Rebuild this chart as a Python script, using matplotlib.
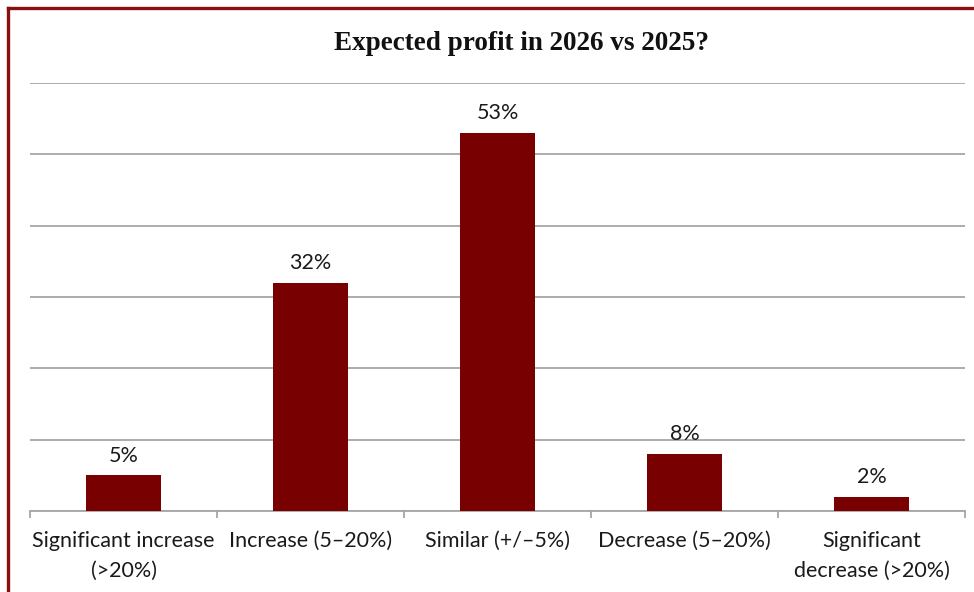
import matplotlib.pyplot as plt
from matplotlib.lines import Line2D

categories = ['Significant increase\n(>20%)', 'Increase (5\u201320%)', 'Similar (+/\u20135%)',
              'Decrease (5\u201320%)', 'Significant\ndecrease (>20%)']
values = [5, 32, 53, 8, 2]

bar_color = '#780000'
grid_color = '#a6a6a6'
text_color = '#1a1a1a'

fig = plt.figure(figsize=(9.74, 5.92), dpi=100)
ax = fig.add_axes([30 / 974, 1 - 511 / 592, 935 / 974, 428 / 592])

x = list(range(len(categories)))
bars = ax.bar(x, values, width=0.4, color=bar_color, zorder=3)

for b, v in zip(bars, values):
    ax.annotate(f'{v}%', (b.get_x() + b.get_width() / 2, v), xytext=(0, 7),
                textcoords='offset points', ha='center', va='bottom',
                fontsize=15.5, family='Lato', color=text_color)

ax.set_xlim(-0.5, len(categories) - 0.5)
ax.set_ylim(0, 60)
ax.set_yticks(range(0, 61, 10))
ax.yaxis.grid(True, color=grid_color, linewidth=1.3, zorder=0)
ax.tick_params(axis='y', length=0, labelleft=False)

# category labels centred under each bar, tick marks on the boundaries
ax.set_xticks([i - 0.5 for i in range(len(categories) + 1)])
ax.set_xticklabels([])
ax.tick_params(axis='x', length=5, width=1.3, color=grid_color, direction='out')
for i, c in enumerate(categories):
    ax.text(i, -2.8, c, ha='center', va='top', fontsize=15.5, family='Lato',
            color=text_color, linespacing=1.62)

for s in ['top', 'right', 'left']:
    ax.spines[s].set_visible(False)
ax.spines['bottom'].set_color(grid_color)
ax.spines['bottom'].set_linewidth(1.3)

fig.text(521 / 974, 1 - 43 / 592, 'Expected profit in 2026 vs 2025?', ha='center', va='center',
         fontsize=19.5, fontweight='bold', family='Liberation Serif', color='#111111')

# dark red frame along the left and top edges
frame = dict(color='#8a1010', linewidth=2.4, transform=fig.transFigure)
fig.lines.append(Line2D([8 / 974, 8 / 974], [0, 1 - 7.5 / 592], **frame))
fig.lines.append(Line2D([8 / 974, 1], [1 - 7.5 / 592, 1 - 7.5 / 592], **frame))

fig.savefig('out.png', dpi=100)
